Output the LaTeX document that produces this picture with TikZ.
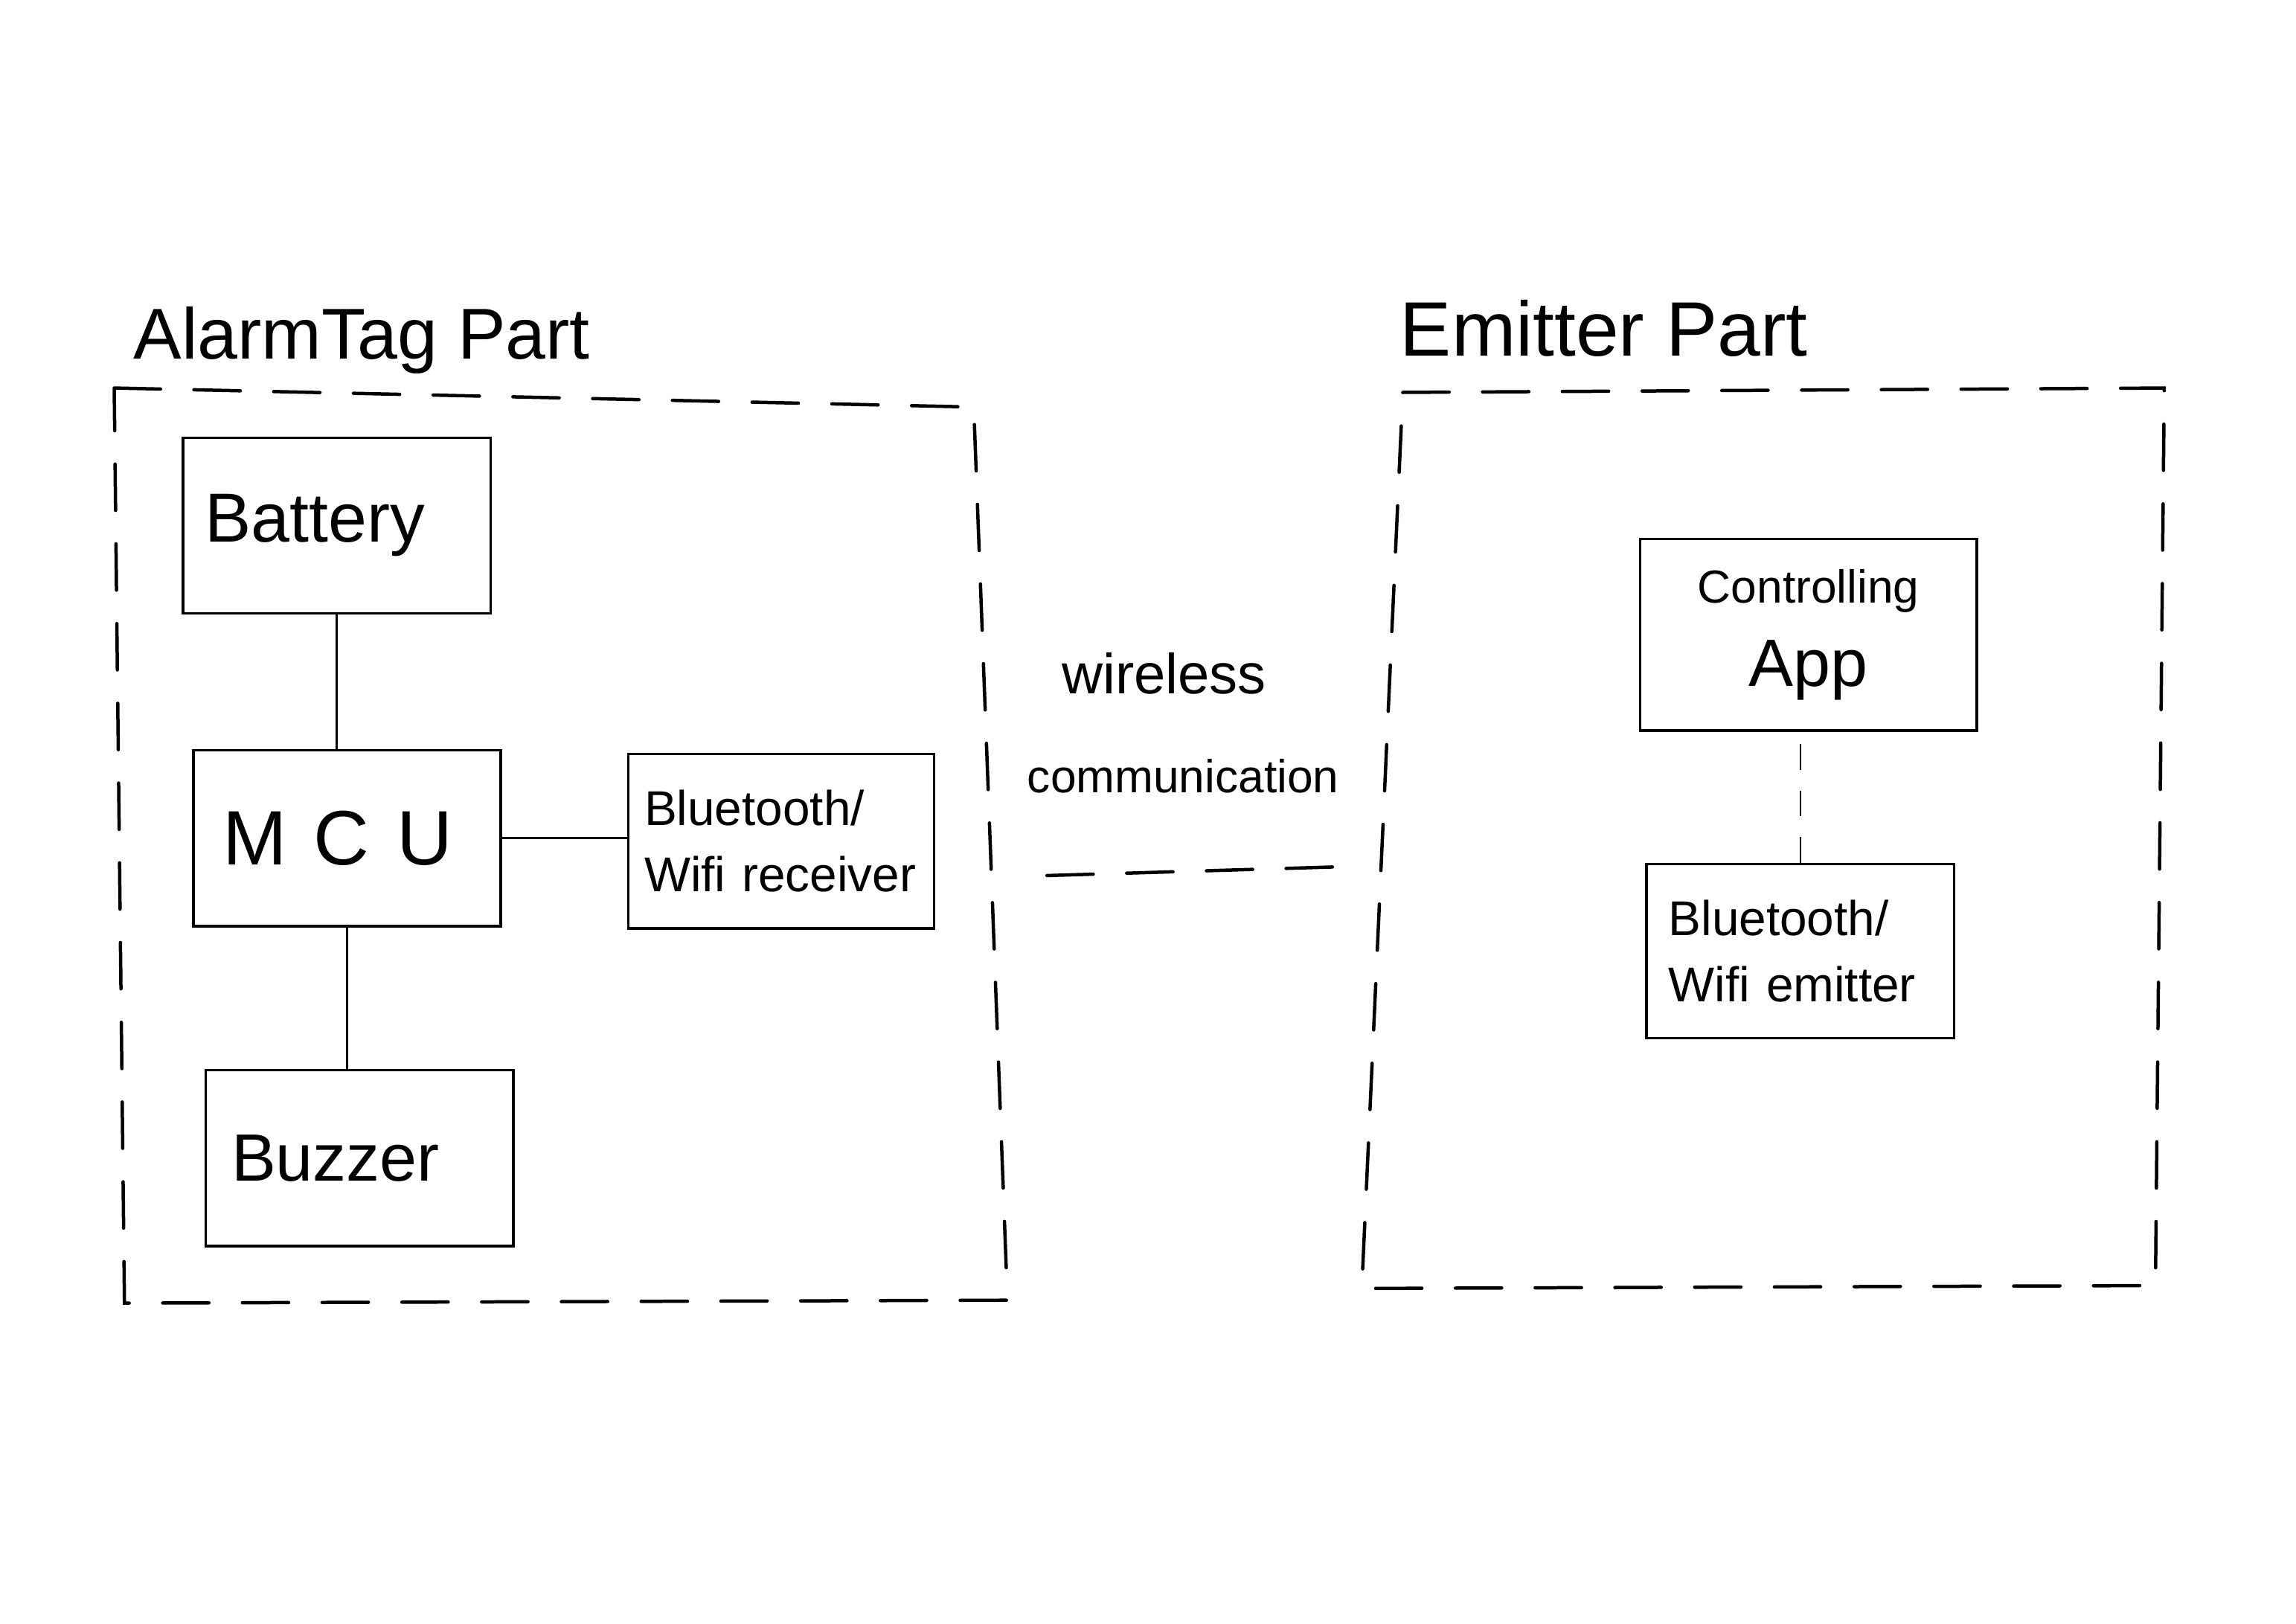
\documentclass[tikz,border=0pt]{standalone}
\usepackage{fontspec}
\setmainfont{Liberation Sans}
\usetikzlibrary{positioning}

\newcommand{\fs}[1]{\fontsize{#1}{1.15\dimexpr#1pt\relax}\selectfont}

\begin{document}
\begin{tikzpicture}
  [x=0.02cm, y=-0.02cm,
   block/.style={rectangle, draw, line width=1pt, minimum width=4.2cm, minimum height=2.4cm, align=left, inner xsep=0.3cm},
   group/.style={line width=1.3pt, dash pattern=on 18pt off 13pt, line cap=round},
   title/.style={anchor=base west, font=\fs{30}},
   link/.style={line width=1pt}]
  \useasboundingbox (0,0) rectangle (1568,1109);

  % titles
  \node (tagtitle) [title, font=\fs{28}] at (85,245) {AlarmTag Part};
  \node (emtitle) [title] at (950,243) {Emitter Part};

  % dashed frames
  \draw [group] (78,265) -- (665,278) -- (688,888) -- (85,890) -- cycle;
  \draw [group] (958,268) -- (1478,265) -- (1472,878) -- (930,880) -- cycle;

  % alarm tag blocks
  \node (bat) [block, text width=3.6cm, font=\fs{27}] at (230,359) {Battery};
  \node (mcu) [block, text width=3.4cm, inner xsep=0.4cm, font=\fs{30}] at (237,572.5) {\mbox{M\hspace{0.35em}C\hspace{0.35em}U}};
  \node (rx) [block, minimum width=4.18cm, minimum height=2.38cm, text width=3.74cm, inner xsep=0.22cm, font=\fs{19}] at (533.5,574.5) {Bluetooth/\\[4pt]Wifi~receiver};
  \node (buz) [block, text width=3.5cm, inner xsep=0.35cm, font=\fs{26}] at (245.5,791) {Buzzer};

  \draw [link] (bat.south) -- (bat.south |- mcu.north);
  \draw [link] (mcu.south) -- (mcu.south |- buz.north);
  \draw [link] (mcu.east) -- (mcu.east -| rx.west);

  % wireless link
  \node (wl) [font=\fs{22}] at (795,460) {wireless};
  \node (comm) [font=\fs{18}] at (808,530) {communication};
  \coordinate (wa) at (715,598);
  \coordinate (wb) at (915,592);
  \draw [group] (wa) -- (wb);

  % emitter blocks
  \node (app) [block, minimum width=4.6cm, minimum height=2.62cm, align=center] at (1235,433.5)
    {{\fs{18}Controlling}\\[10pt]{\fs{26}App}};
  \node (emit) [block, minimum width=4.18cm, minimum height=2.38cm, text width=3.6cm, font=\fs{19}] at (1229.5,649.5) {Bluetooth/\\[4pt]Wifi~emitter};

  \draw [line width=0.5pt, dash pattern=on 10pt off 8pt] (emit.north) -- (emit.north |- app.south);
\end{tikzpicture}
\end{document}
